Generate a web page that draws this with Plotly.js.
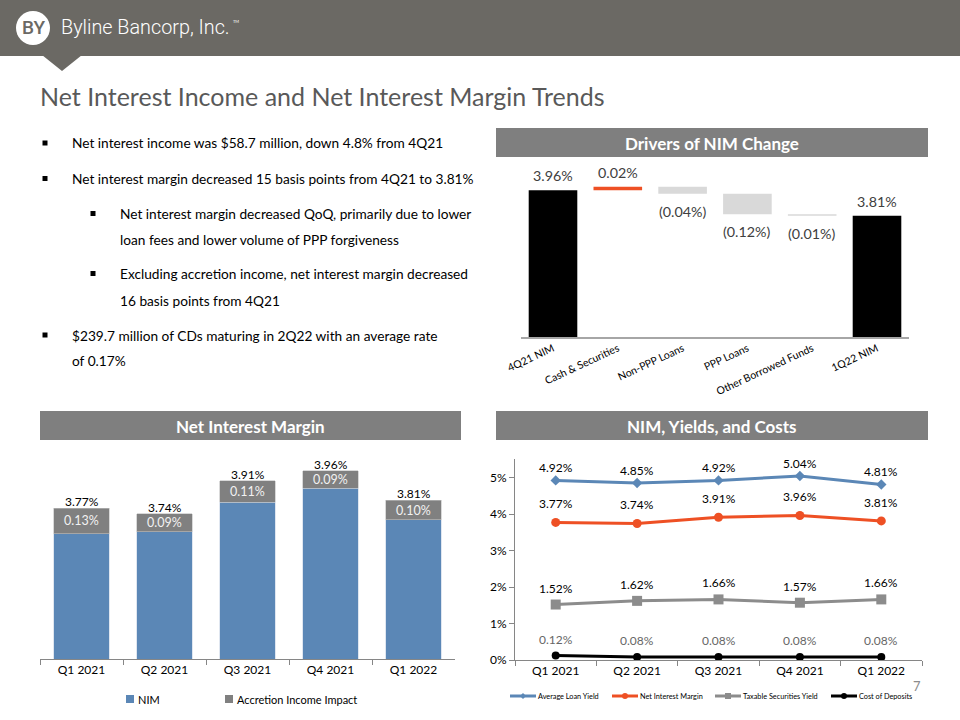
<!DOCTYPE html>
<html>
<head>
<meta charset="utf-8">
<script src="https://cdn.plot.ly/plotly-3.0.1.min.js"></script>
<style>html,body{margin:0;padding:0;background:#fff;overflow:hidden;}#chart{width:960px;height:720px;}</style>
</head>
<body>
<div id="chart"></div>
<script>
// ---------- DATA ----------
const wfCategories = ['4Q21 NIM', 'Cash & Securities', 'Non-PPP Loans', 'PPP Loans', 'Other Borrowed Funds', '1Q22 NIM'];
const wfValues = [3.96, 0.02, -0.04, -0.12, -0.01, 3.81];
const wfMeasures = ['absolute', 'relative', 'relative', 'relative', 'relative', 'total'];

const quarters = ['Q1 2021', 'Q2 2021', 'Q3 2021', 'Q4 2021', 'Q1 2022'];
const nimCore = [3.64, 3.65, 3.80, 3.87, 3.71];
const accretionImpact = [0.13, 0.09, 0.11, 0.09, 0.10];
const nimReported = [3.77, 3.74, 3.91, 3.96, 3.81];

const avgLoanYield = [4.92, 4.85, 4.92, 5.04, 4.81];
const netInterestMargin = [3.77, 3.74, 3.91, 3.96, 3.81];
const taxableSecYield = [1.52, 1.62, 1.66, 1.57, 1.66];
const costOfDeposits = [0.12, 0.08, 0.08, 0.08, 0.08];

const bullets = [
  {lvl: 0, lines: ['Net interest income was $58.7 million, down 4.8% from 4Q21']},
  {lvl: 0, lines: ['Net interest margin decreased 15 basis points from 4Q21 to 3.81%']},
  {lvl: 1, lines: ['Net interest margin decreased QoQ, primarily due to lower', 'loan fees and lower volume of PPP forgiveness']},
  {lvl: 1, lines: ['Excluding accretion income, net interest margin decreased', '16 basis points from 4Q21']},
  {lvl: 0, lines: ['$239.7 million of CDs maturing in 2Q22 with an average rate', 'of 0.17%']}
];

// ---------- STYLE ----------
const FONT = 'Lato, "Open Sans", sans-serif';
const W = 960, H = 720;
const px = x => x / W;
const py = y => 1 - y / H;
const BAND = '#6b6964';
const SECTION = '#7f7f7f';
const BLUE = '#5b87b6';
const ORANGE = '#ee5024';
const GRAY = '#8c8c8c';
const ACCR = '#808080';
const fmt = v => v.toFixed(2) + '%';
const fmtNeg = v => v < 0 ? '(' + Math.abs(v).toFixed(2) + '%)' : v.toFixed(2) + '%';

const shapes = [];
const annotations = [];

// header band + pointer
shapes.push({type: 'rect', xref: 'paper', yref: 'paper', x0: -0.02, x1: 1.02, y0: py(56), y1: 1.02, fillcolor: BAND, line: {width: 0}, layer: 'below'});
shapes.push({type: 'path', xref: 'paper', yref: 'paper', path: `M ${px(42)} ${py(55)} L ${px(82)} ${py(55)} L ${px(62)} ${py(71)} Z`, fillcolor: BAND, line: {width: 0}});
// logo circle
shapes.push({type: 'circle', xref: 'paper', yref: 'paper', x0: px(16), x1: px(50), y0: py(45), y1: py(11), fillcolor: '#ffffff', line: {width: 0}});
annotations.push({xref: 'paper', yref: 'paper', x: px(33), y: py(28), text: 'BY', showarrow: false, xanchor: 'center', yanchor: 'middle', font: {family: 'Roboto, Lato, sans-serif', size: 19, color: BAND, weight: 500}});
annotations.push({xref: 'paper', yref: 'paper', x: px(59), y: py(28), text: 'Byline Bancorp, Inc.', showarrow: false, xanchor: 'left', yanchor: 'middle', font: {family: 'Roboto, Lato, sans-serif', size: 19.8, color: '#ffffff', weight: 300}});
annotations.push({xref: 'paper', yref: 'paper', x: px(231), y: py(21), text: 'TM', showarrow: false, xanchor: 'left', yanchor: 'middle', font: {family: FONT, size: 4, color: '#ffffff'}});

// main title
annotations.push({xref: 'paper', yref: 'paper', x: px(38), y: py(96), text: 'Net Interest Income and Net Interest Margin Trends', showarrow: false, xanchor: 'left', yanchor: 'middle', font: {family: FONT, size: 25, color: '#595959'}});

// bullets
const lineYs = [[143], [178.5], [213.5, 239.5], [273.5, 300], [335, 360.5]];
bullets.forEach((b, i) => {
  const bx = b.lvl === 0 ? 45 : 93;
  const tx = b.lvl === 0 ? 72 : 120;
  const y0 = lineYs[i][0];
  shapes.push({type: 'rect', xref: 'paper', yref: 'paper', x0: px(bx - 2.5), x1: px(bx + 2.5), y0: py(y0 + 2.5), y1: py(y0 - 2.5), fillcolor: '#000', line: {width: 0}});
  b.lines.forEach((t, j) => {
    annotations.push({xref: 'paper', yref: 'paper', x: px(tx), y: py(lineYs[i][j]), text: t, showarrow: false, xanchor: 'left', yanchor: 'middle', xshift: -2, font: {family: FONT, size: 13.7, color: '#000'}});
  });
});

// section header bars
const sections = [
  {x0: 496, x1: 928, y0: 128, y1: 157, text: 'Drivers of NIM Change'},
  {x0: 40, x1: 461, y0: 411, y1: 440, text: 'Net Interest Margin'},
  {x0: 496, x1: 928, y0: 411, y1: 440, text: 'NIM, Yields, and Costs'}
];
sections.forEach(s => {
  shapes.push({type: 'rect', xref: 'paper', yref: 'paper', x0: px(s.x0), x1: px(s.x1), y0: py(s.y1), y1: py(s.y0), fillcolor: SECTION, line: {width: 0}});
  annotations.push({xref: 'paper', yref: 'paper', x: px((s.x0 + s.x1) / 2), y: py((s.y0 + s.y1) / 2 + 1), text: '<b>' + s.text + '</b>', showarrow: false, xanchor: 'center', yanchor: 'middle', font: {family: FONT, size: 17, color: '#ffffff'}});
});

// page number
annotations.push({xref: 'paper', yref: 'paper', x: px(917), y: py(686), text: '7', showarrow: false, xanchor: 'center', yanchor: 'middle', font: {family: FONT, size: 13, color: '#8c8c8c'}});

// ---------- TRACES ----------
const traces = [];

// Waterfall
traces.push({
  type: 'waterfall', x: wfCategories, y: wfValues, measure: wfMeasures,
  xaxis: 'x', yaxis: 'y', showlegend: false, hoverinfo: 'skip',
  connector: {visible: false},
  increasing: {marker: {color: ORANGE}},
  decreasing: {marker: {color: '#d9d9d9'}},
  totals: {marker: {color: '#000000'}},
  textinfo: 'none'
});
let level = 0;
wfValues.forEach((v, i) => {
  const m = wfMeasures[i];
  let start, end;
  if (m === 'absolute') { start = 0; end = v; level = v; }
  else if (m === 'total') { start = 0; end = level; }
  else { start = level; end = level + v; level = end; }
  const down = m === 'relative' && v < 0;
  annotations.push({
    xref: 'x', yref: 'y', x: wfCategories[i], y: down ? Math.min(start, end) : Math.max(start, end),
    text: fmtNeg(m === 'total' ? end : v), showarrow: false, xanchor: 'center',
    yanchor: down ? 'top' : 'bottom', yshift: down ? -7 : 4,
    font: {family: FONT, size: 14.3, color: '#404040'}
  });
});

// NIM stacked bars
const barSeries = [
  {name: 'NIM', y: nimCore, color: BLUE, edge: '#c9d6e6', lx: 130},
  {name: 'Accretion Income Impact', y: accretionImpact, color: ACCR, edge: '#bfbfbf', lx: 229}
];
barSeries.forEach(s => {
  traces.push({type: 'bar', name: s.name, x: quarters, y: s.y, xaxis: 'x2', yaxis: 'y2', marker: {color: s.color, line: {color: s.edge, width: 0.6}}, showlegend: false, hoverinfo: 'skip', textinfo: 'none'});
  // custom legend entry
  shapes.push({type: 'rect', xref: 'paper', yref: 'paper', x0: px(s.lx - 4), x1: px(s.lx + 4), y0: py(699 + 4), y1: py(699 - 4), fillcolor: s.color, line: {width: 0}});
  annotations.push({xref: 'paper', yref: 'paper', x: px(s.lx + 7), y: py(699), text: s.name, showarrow: false, xanchor: 'left', yanchor: 'middle', xshift: -1, font: {family: FONT, size: 11, color: '#000'}});
});
quarters.forEach((q, i) => {
  annotations.push({xref: 'x2', yref: 'y2', x: q, y: nimCore[i] + accretionImpact[i] / 2, text: fmt(accretionImpact[i]), showarrow: false, xanchor: 'center', yanchor: 'middle', font: {family: FONT, size: 12.5, color: '#f2f2f2'}});
  annotations.push({xref: 'x2', yref: 'y2', x: q, y: nimCore[i] + accretionImpact[i], text: fmt(nimReported[i]), showarrow: false, xanchor: 'center', yanchor: 'bottom', yshift: -3, font: {family: FONT, size: 12, color: '#000'}});
});

// Lines
const lineSeries = [
  {name: 'Average Loan Yield', y: avgLoanYield, color: BLUE, symbol: 'diamond', size: 8, shift: 3, lab: '#000', lx: 510},
  {name: 'Net Interest Margin', y: netInterestMargin, color: ORANGE, symbol: 'circle', size: 9, shift: 9, lab: '#000', lx: 612},
  {name: 'Taxable Securities Yield', y: taxableSecYield, color: GRAY, symbol: 'square', size: 10, shift: 7, lab: '#000', lx: 715},
  {name: 'Cost of Deposits', y: costOfDeposits, color: '#000000', symbol: 'circle', size: 8, shift: 7, lab: '#666666', lx: 831}
];
const LEG_Y = 696;
lineSeries.forEach(s => {
  traces.push({type: 'scatter', mode: 'lines+markers', name: s.name, x: quarters, y: s.y, xaxis: 'x3', yaxis: 'y3',
    line: {color: s.color, width: 3}, marker: {color: s.color, symbol: s.symbol, size: s.size}, showlegend: false, hoverinfo: 'skip'});
  quarters.forEach((q, i) => {
    annotations.push({xref: 'x3', yref: 'y3', x: q, y: s.y[i], text: fmt(s.y[i]), showarrow: false, xanchor: 'center', yanchor: 'bottom', yshift: s.shift, font: {family: FONT, size: 12, color: s.lab}});
  });
  const cx = s.lx + 13;
  shapes.push({type: 'line', xref: 'paper', yref: 'paper', x0: px(s.lx), x1: px(s.lx + 26), y0: py(LEG_Y), y1: py(LEG_Y), line: {color: s.color, width: 3}});
  const r = 3;
  if (s.symbol === 'diamond') {
    shapes.push({type: 'path', xref: 'paper', yref: 'paper', path: `M ${px(cx - r)} ${py(LEG_Y)} L ${px(cx)} ${py(LEG_Y - r)} L ${px(cx + r)} ${py(LEG_Y)} L ${px(cx)} ${py(LEG_Y + r)} Z`, fillcolor: s.color, line: {width: 0}});
  } else if (s.symbol === 'square') {
    shapes.push({type: 'rect', xref: 'paper', yref: 'paper', x0: px(cx - r), x1: px(cx + r), y0: py(LEG_Y + r), y1: py(LEG_Y - r), fillcolor: s.color, line: {width: 0}});
  } else {
    shapes.push({type: 'circle', xref: 'paper', yref: 'paper', x0: px(cx - r), x1: px(cx + r), y0: py(LEG_Y + r), y1: py(LEG_Y - r), fillcolor: s.color, line: {width: 0}});
  }
  annotations.push({xref: 'paper', yref: 'paper', x: px(s.lx + 27), y: py(LEG_Y), text: s.name, showarrow: false, xanchor: 'left', yanchor: 'middle', xshift: -1, font: {family: FONT, size: 7.3, color: '#000'}});
});

// ---------- LAYOUT ----------
const tickFont = {family: FONT, size: 12, color: '#000'};
const layout = {
  width: W, height: H, margin: {l: 0, r: 0, t: 0, b: 0},
  paper_bgcolor: '#ffffff', plot_bgcolor: 'rgba(0,0,0,0)',
  font: {family: FONT},
  barmode: 'stack', bargap: 0.337, waterfallgap: 0.25,
  shapes: shapes, annotations: annotations, showlegend: false,
  xaxis: {domain: [px(520.6), px(909.4)], anchor: 'y', range: [-0.5, 5.5], showline: true, linecolor: '#a6a6a6', linewidth: 1.5, ticks: '', showgrid: false,
    tickangle: -25, tickfont: {family: FONT, size: 10.5, color: '#000'}, fixedrange: true},
  yaxis: {domain: [py(337), py(160)], anchor: 'x', range: [3.1, 4.1375], visible: false, showgrid: false, fixedrange: true},
  xaxis2: {domain: [px(40), px(455)], anchor: 'y2', range: [-0.5, 4.5], showline: true, linecolor: '#868686', ticks: 'outside', tickson: 'boundaries', ticklen: 5, tickcolor: '#868686', showgrid: false, tickfont: tickFont, fixedrange: true},
  yaxis2: {domain: [py(659), py(450)], anchor: 'x2', range: [3.0, 4.0663], visible: false, showgrid: false, fixedrange: true},
  xaxis3: {domain: [px(515), px(922)], anchor: 'y3', range: [-0.5, 4.5], showline: true, linecolor: '#868686', ticks: 'outside', tickson: 'boundaries', ticklen: 5, tickcolor: '#868686', showgrid: false, tickfont: tickFont, fixedrange: true},
  yaxis3: {domain: [py(660), py(459.25)], anchor: 'x3', range: [0, 5.5], dtick: 1, tick0: 0, ticksuffix: '%', showline: true, linecolor: '#868686', ticks: 'outside', ticklen: 5, tickcolor: '#868686', showgrid: false, zeroline: false, tickfont: tickFont, fixedrange: true}
};

Plotly.newPlot('chart', traces, layout, {displayModeBar: false, staticPlot: true});
</script>
</body>
</html>
